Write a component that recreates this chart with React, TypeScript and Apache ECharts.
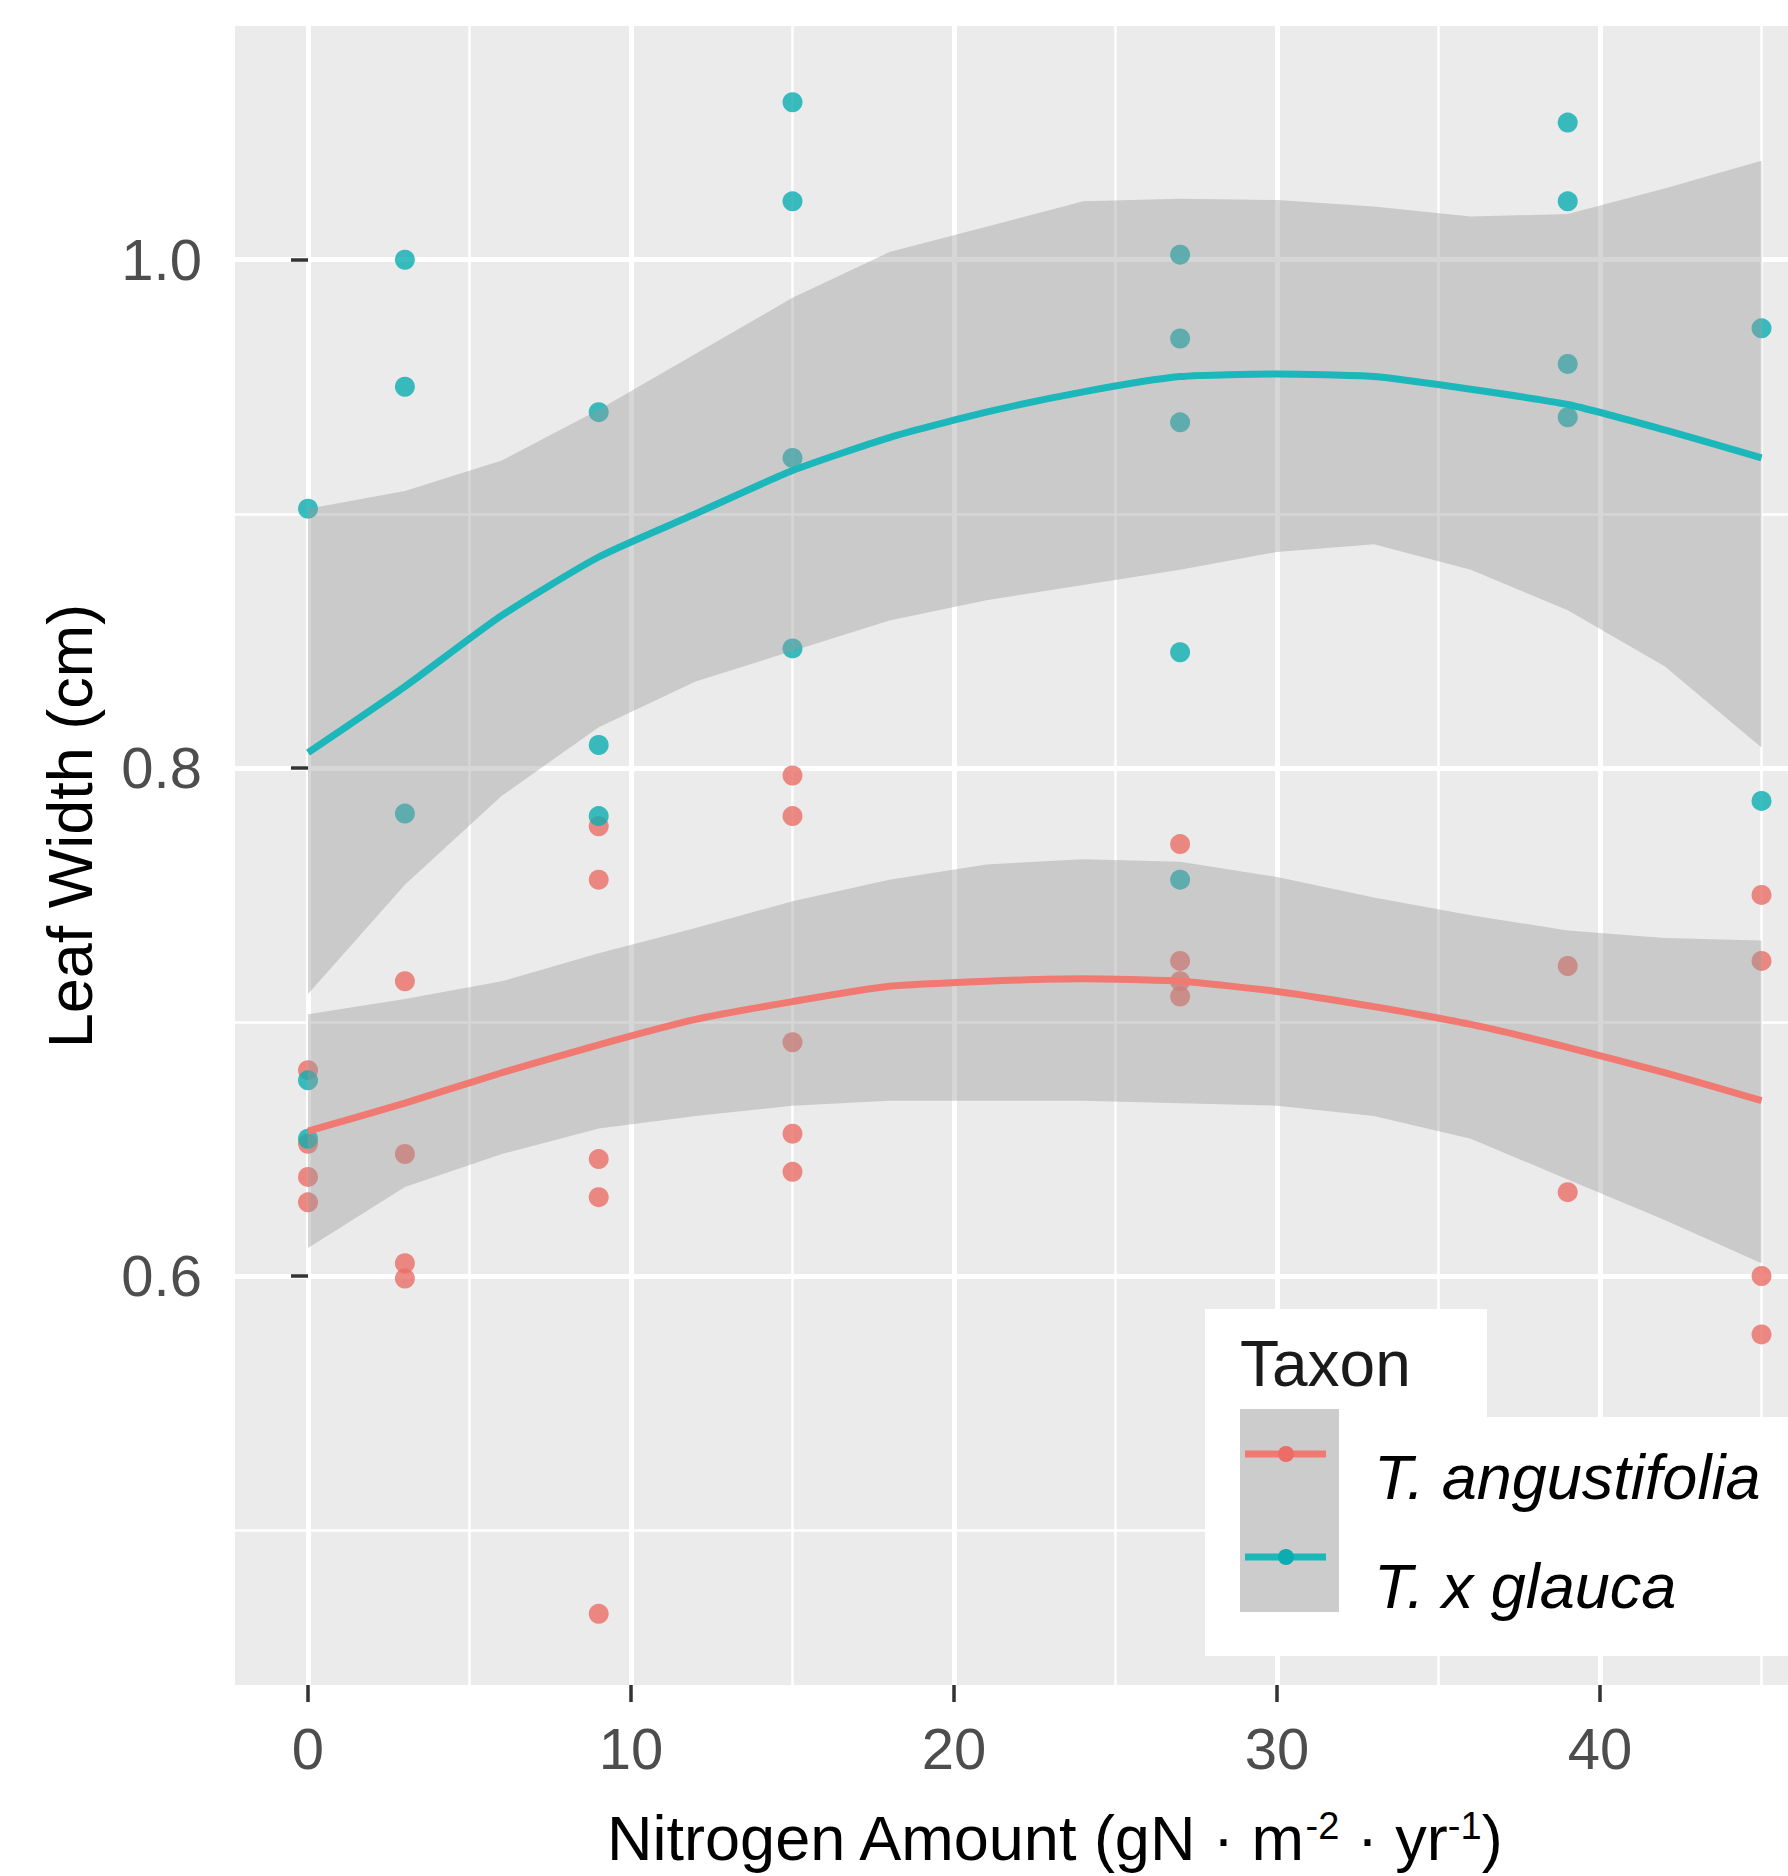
import React, { useEffect, useRef } from "react";
import * as echarts from "echarts";

// ---------- data ----------
const NITROGEN_LEVELS = [0, 3, 9, 15, 27, 39, 45];
const ANGUSTIFOLIA_WIDTHS = [
  [0.681, 0.652, 0.639, 0.629],
  [0.716, 0.648, 0.605, 0.599],
  [0.777, 0.756, 0.646, 0.631, 0.467],
  [0.797, 0.781, 0.692, 0.656, 0.641],
  [0.770, 0.724, 0.716, 0.710],
  [0.722, 0.633],
  [0.750, 0.724, 0.600, 0.577],
];
const GLAUCA_WIDTHS = [
  [0.902, 0.677, 0.654],
  [1.0, 0.950, 0.782],
  [0.940, 0.809, 0.781],
  [1.062, 1.023, 0.922, 0.847],
  [1.002, 0.969, 0.936, 0.8455, 0.756],
  [1.054, 1.023, 0.959, 0.938],
  [0.973, 0.787],
];

const FIT_X = [0, 3, 6, 9, 12, 15, 18, 21, 24, 27, 30, 33, 36, 39, 42, 45];
const ANG_FIT = [0.657, 0.668, 0.68, 0.691, 0.701, 0.708, 0.714, 0.716, 0.717, 0.716, 0.712, 0.706, 0.699, 0.69, 0.68, 0.669];
const ANG_LO = [0.611, 0.635, 0.648, 0.658, 0.663, 0.667, 0.669, 0.669, 0.669, 0.668, 0.667, 0.663, 0.654, 0.638, 0.622, 0.605];
const ANG_HI = [0.703, 0.709, 0.716, 0.727, 0.737, 0.7475, 0.756, 0.762, 0.764, 0.763, 0.757, 0.749, 0.742, 0.736, 0.733, 0.732];
const GLA_FIT = [0.806, 0.832, 0.86, 0.883, 0.9, 0.917, 0.93, 0.94, 0.948, 0.954, 0.955, 0.954, 0.949, 0.943, 0.933, 0.922];
const GLA_LO = [0.711, 0.754, 0.789, 0.816, 0.834, 0.846, 0.858, 0.866, 0.872, 0.878, 0.885, 0.888, 0.878, 0.862, 0.84, 0.808];
const GLA_HI = [0.902, 0.909, 0.921, 0.941, 0.963, 0.985, 1.003, 1.013, 1.023, 1.024, 1.0235, 1.021, 1.017, 1.018, 1.028, 1.039];

const X_MAJOR = [0, 10, 20, 30, 40];
const X_MINOR = [5, 15, 25, 35, 45];
const Y_MAJOR = [0.6, 0.8, 1.0];
const Y_MINOR = [0.5, 0.7, 0.9];
const X_RANGE = [-2.26, 45.82];
const Y_RANGE = [0.439, 1.092];

const TAXA = ["T. angustifolia", "T. x glauca"];
const X_TITLE = "Nitrogen Amount (gN · m{sup|-2} · yr{sup|-1})";
const Y_TITLE = "Leaf Width (cm)";
const LEGEND_TITLE = "Taxon";

const RED = "#EA6E67";
const RED_LINE = "#F07A72";
const TEAL = "#0BADB0";
const TEAL_LINE = "#1BB7BA";
const RIBBON = "rgba(153,153,153,0.4)";
const FONT = '"Liberation Sans", Arial, Helvetica, sans-serif';

function pts(levels: number[], groups: number[][]) {
  const out: number[][] = [];
  levels.forEach((x, i) => groups[i].forEach((y) => out.push([x, y])));
  return out;
}

function ribbon(lo: number[], hi: number[]) {
  return {
    type: "custom",
    data: FIT_X.map((x, i) => [x, lo[i], hi[i]]),
    encode: { x: 0, y: [1, 2] },
    silent: true,
    clip: true,
    z: 3,
    renderItem: (params: any, api: any) => {
      if (params.dataIndex !== 0) return null;
      const upper = FIT_X.map((x, i) => api.coord([x, hi[i]]));
      const lower = FIT_X.map((x, i) => api.coord([x, lo[i]])).reverse();
      return {
        type: "polygon",
        shape: { points: upper.concat(lower) },
        style: { fill: RIBBON, stroke: null },
      };
    },
  };
}

function fitLine(fit: number[], color: string) {
  return {
    type: "line",
    data: FIT_X.map((x, i) => [x, fit[i]]),
    symbol: "none",
    smooth: 0.2,
    silent: true,
    lineStyle: { color, width: 7 },
    z: 4,
  };
}

export default function App() {
  const ref = useRef<HTMLDivElement>(null);
  useEffect(() => {
    if (!ref.current) return;
    const chart = echarts.init(ref.current, null, { renderer: "svg" });
    const tickStyle = { color: "#333333", width: 3.5 };
    const option: any = {
      animation: false,
      backgroundColor: "#ffffff",
      grid: {
        left: 235,
        top: 26,
        right: 0,
        bottom: 191,
        show: true,
        backgroundColor: "#EBEBEB",
        borderWidth: 0,
        containLabel: false,
        outerBoundsMode: "none",
      },
      xAxis: [
        {
          type: "value",
          min: X_RANGE[0],
          max: X_RANGE[1],
          position: "bottom",
          axisLine: { show: false },
          axisTick: { show: true, customValues: X_MAJOR, length: 17, lineStyle: tickStyle },
          axisLabel: {
            customValues: X_MAJOR,
            fontSize: 58,
            color: "#4D4D4D",
            fontFamily: FONT,
            margin: 34,
          },
          splitLine: { show: true, lineStyle: { color: "#ffffff", width: 5 } },
        },
        {
          type: "value",
          min: X_RANGE[0],
          max: X_RANGE[1],
          position: "bottom",
          axisLine: { show: false },
          axisTick: { show: false, customValues: X_MINOR },
          axisLabel: { show: false, customValues: X_MINOR },
          splitLine: { show: true, lineStyle: { color: "#ffffff", width: 2.5 } },
        },
      ],
      yAxis: [
        {
          type: "value",
          min: Y_RANGE[0],
          max: Y_RANGE[1],
          position: "left",
          axisLine: { show: false },
          axisTick: { show: true, customValues: Y_MAJOR, length: 17, lineStyle: tickStyle },
          axisLabel: {
            customValues: Y_MAJOR,
            fontSize: 58,
            color: "#4D4D4D",
            fontFamily: FONT,
            margin: 33,
            formatter: (v: number) => v.toFixed(1),
          },
          splitLine: { show: true, lineStyle: { color: "#ffffff", width: 5 } },
        },
        {
          type: "value",
          min: Y_RANGE[0],
          max: Y_RANGE[1],
          position: "left",
          axisLine: { show: false },
          axisTick: { show: false, customValues: Y_MINOR },
          axisLabel: { show: false, customValues: Y_MINOR },
          splitLine: { show: true, lineStyle: { color: "#ffffff", width: 2.5 } },
        },
      ],
      series: [
        {
          type: "scatter",
          name: TAXA[0],
          data: pts(NITROGEN_LEVELS, ANGUSTIFOLIA_WIDTHS),
          symbolSize: 20,
          itemStyle: { color: RED },
          z: 2,
        },
        {
          type: "scatter",
          name: TAXA[1],
          data: pts(NITROGEN_LEVELS, GLAUCA_WIDTHS),
          symbolSize: 20,
          itemStyle: { color: TEAL },
          z: 2,
        },
        ribbon(ANG_LO, ANG_HI),
        fitLine(ANG_FIT, RED_LINE),
        ribbon(GLA_LO, GLA_HI),
        fitLine(GLA_FIT, TEAL_LINE),
      ],
      graphic: [
        {
          type: "text",
          x: 1054,
          y: 1838,
          z: 100,
          style: {
            text: X_TITLE,
            fontSize: 63,
            fontFamily: FONT,
            fill: "#000",
            align: "center",
            verticalAlign: "middle",
            rich: {
              sup: { fontSize: 38, fontFamily: FONT, fill: "#000", verticalAlign: "top" },
            },
          },
        },
        {
          type: "text",
          x: 70,
          y: 826,
          rotation: Math.PI / 2,
          z: 100,
          style: {
            text: Y_TITLE,
            fontSize: 63,
            fontFamily: FONT,
            fill: "#000",
            align: "center",
            verticalAlign: "middle",
          },
        },
        // legend box
        { type: "rect", z: 100, shape: { x: 1205, y: 1309, width: 282, height: 110 }, style: { fill: "#fff" } },
        { type: "rect", z: 100, shape: { x: 1205, y: 1417, width: 583, height: 239 }, style: { fill: "#fff" } },
        { type: "rect", z: 101, shape: { x: 1240, y: 1409, width: 99, height: 203 }, style: { fill: "#CCCCCC" } },
        { type: "line", z: 102, shape: { x1: 1245, y1: 1454, x2: 1326, y2: 1454 }, style: { stroke: RED_LINE, lineWidth: 7 } },
        { type: "circle", z: 103, shape: { cx: 1286, cy: 1454, r: 8 }, style: { fill: RED } },
        { type: "line", z: 102, shape: { x1: 1245, y1: 1557, x2: 1326, y2: 1557 }, style: { stroke: TEAL_LINE, lineWidth: 7 } },
        { type: "circle", z: 103, shape: { cx: 1286, cy: 1557, r: 8 }, style: { fill: TEAL } },
        {
          type: "text",
          z: 102,
          x: 1240,
          y: 1364,
          style: { text: LEGEND_TITLE, fontSize: 64, fontFamily: FONT, fill: "#1a1a1a", align: "left", verticalAlign: "middle" },
        },
        {
          type: "text",
          z: 102,
          x: 1374,
          y: 1477,
          style: { text: TAXA[0], fontSize: 63, fontStyle: "italic", fontFamily: FONT, fill: "#000", align: "left", verticalAlign: "middle" },
        },
        {
          type: "text",
          z: 102,
          x: 1374,
          y: 1586,
          style: { text: TAXA[1], fontSize: 63, fontStyle: "italic", fontFamily: FONT, fill: "#000", align: "left", verticalAlign: "middle" },
        },
      ],
    };
    chart.setOption(option);
    return () => chart.dispose();
  }, []);
  return (
    <div
      ref={ref}
      style={{ position: "absolute", left: 0, top: 0, width: 1788, height: 1876, background: "#fff" }}
    />
  );
}
